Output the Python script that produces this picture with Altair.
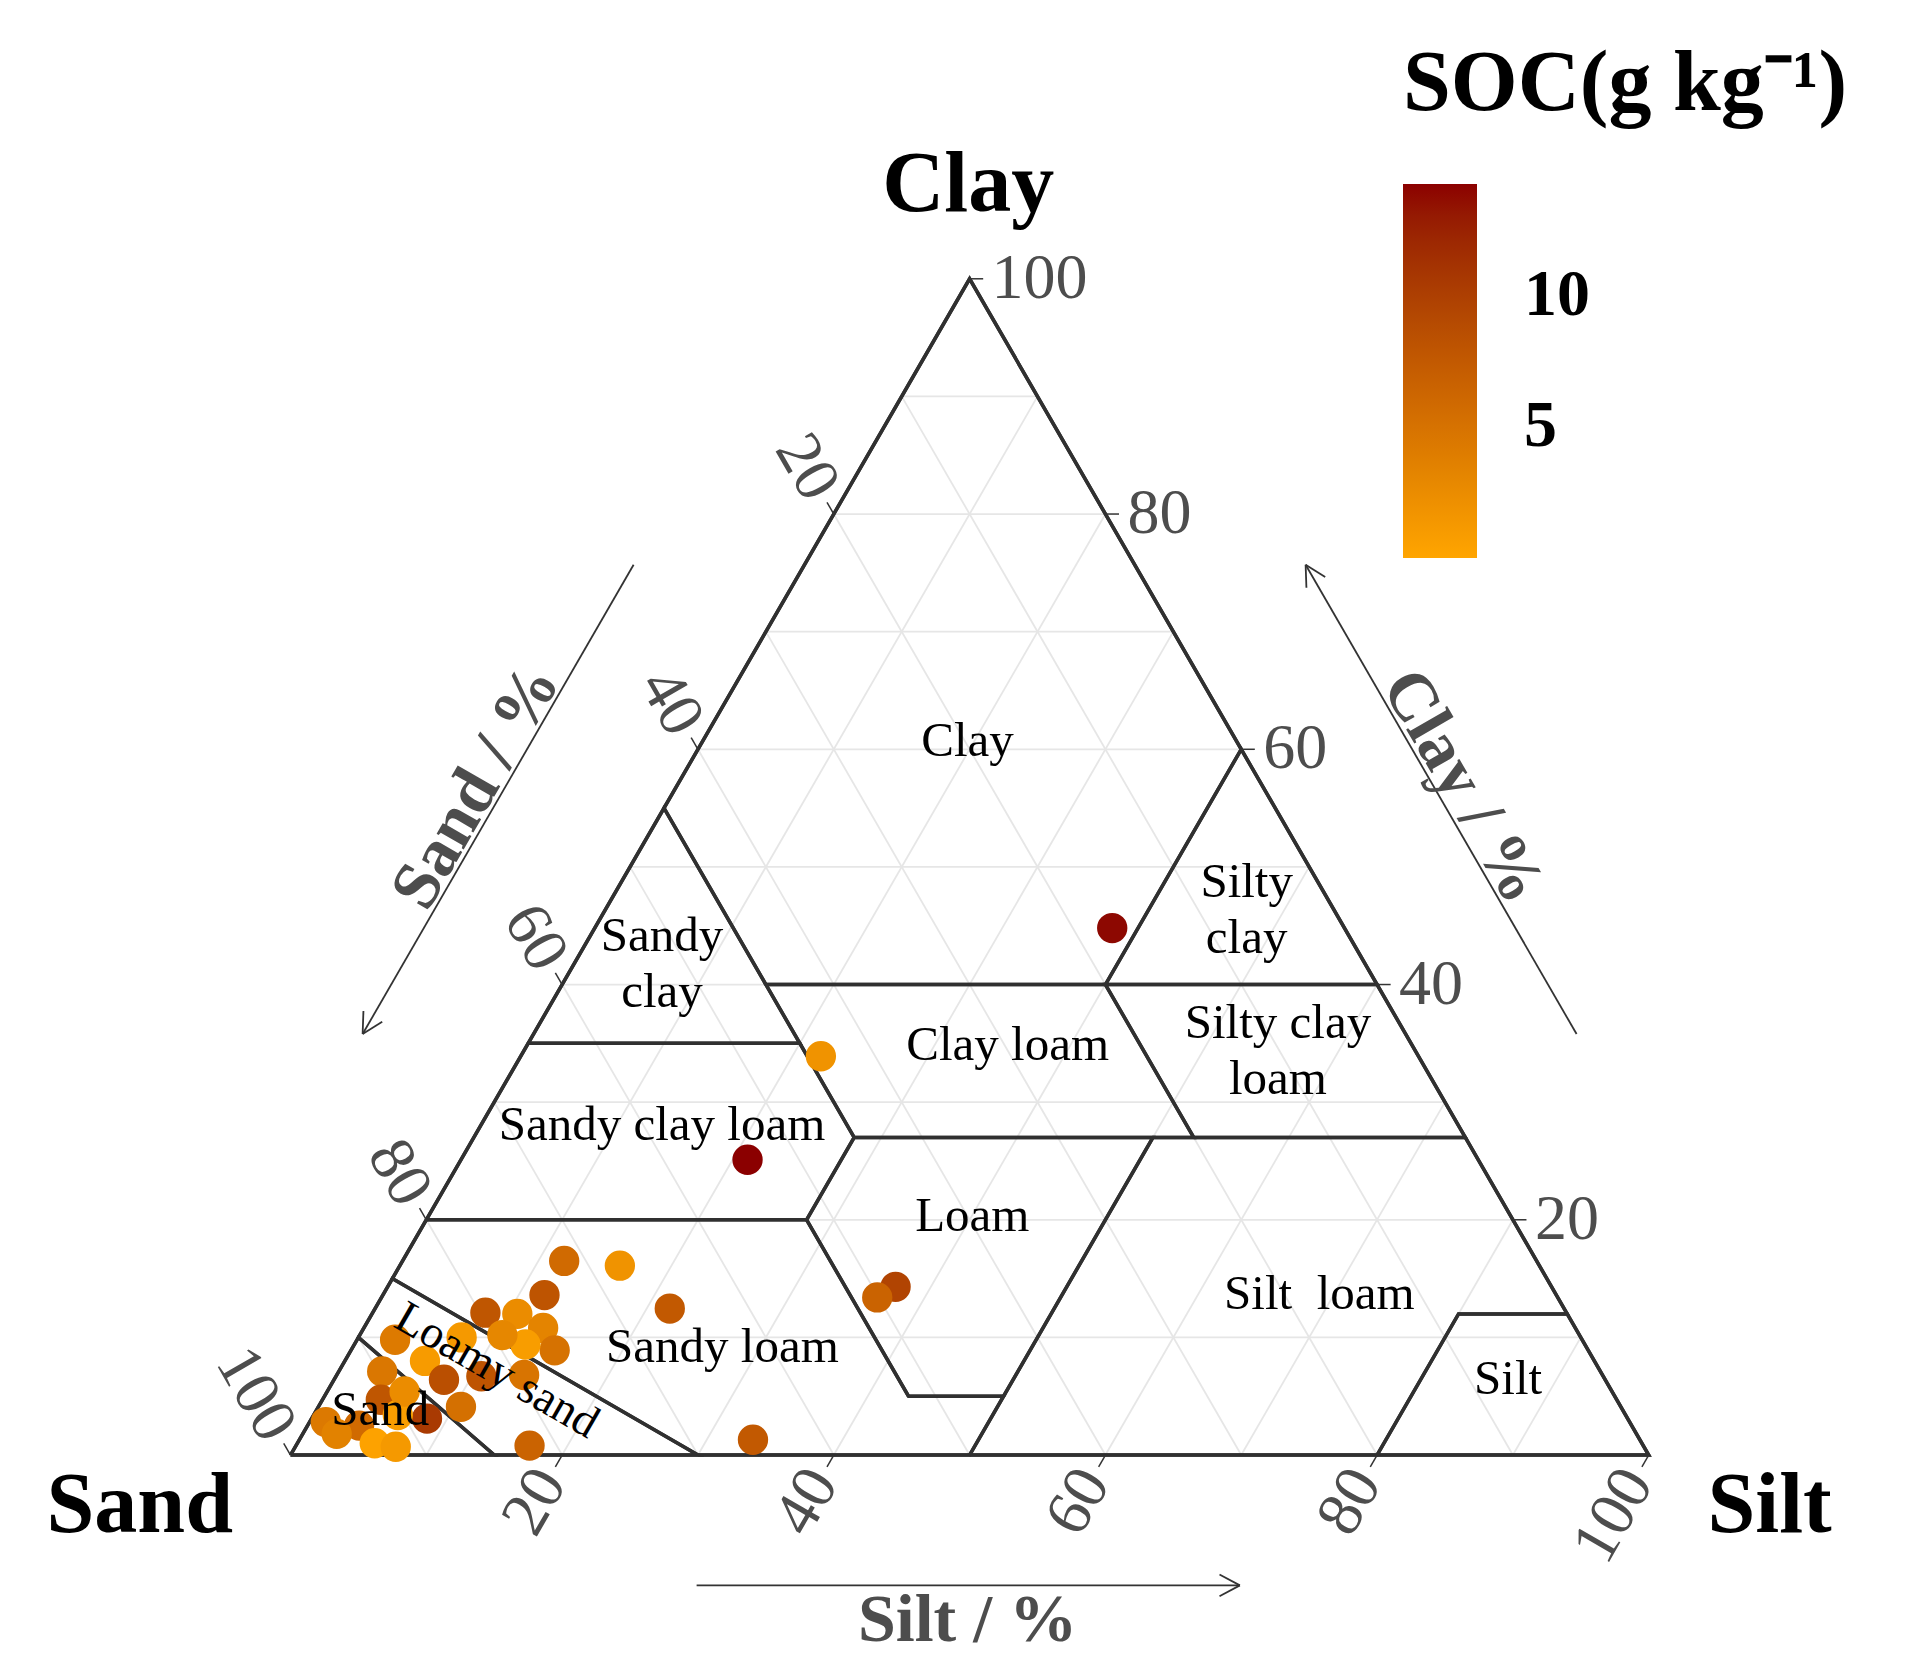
import altair as alt
import numpy as np
import pandas as pd

SERIF = "Liberation Serif"
H = float(np.sqrt(3) / 2)

# ---------------- sample data (percent, SOC g/kg) ----------------
pt_clay = [16.5, 16.1, 13.6, 12.45, 12.1, 12.0, 10.8, 8.9, 9.4, 10.2, 10.0, 9.8, 8.0, 7.1,
           6.4, 6.7, 6.8, 4.1, 3.1, 4.7, 3.4, 2.8, 2.5, 1.0, 0.7, 0.8, 1.3, 14.3, 13.4,
           33.9, 25.1, 44.8, 5.4, 1.8]
pt_silt = [11.9, 16.2, 11.9, 21.7, 8.3, 10.7, 13.2, 15.0, 12.6, 10.5, 7.6, 2.8, 5.9, 3.2,
           8.1, 10.7, 13.8, 10.5, 8.5, 4.3, 6.2, 1.2, 3.8, 5.7, 7.4, 17.2, 33.4, 37.4, 36.5,
           22.1, 21.1, 38.1, 5.7, 2.5]
pt_soc = [5.8, 1.8, 8.0, 7.5, 7.8, 2.5, 3.3, 5.0, 0.8, 3.0, 1.2, 4.2, 1.0, 4.5,
          8.5, 8.0, 4.8, 5.2, 10.5, 7.8, 0.8, 4.3, 5.8, 0.3, 1.2, 6.5, 7.5, 9.5, 6.5,
          1.8, 14.2, 13.9, 2.5, 3.5]

SOC_DOMAIN = [0, 14.2]
SOC_TICKS = [5, 10]
TICK_VALUES = [20, 40, 60, 80, 100]
GRID_VALUES = [10, 20, 30, 40, 50, 60, 70, 80, 90]

# USDA texture classes, vertices as (clay %, silt %)
CLS_SAND = [(0, 0), (0, 15), (10, 0)]
CLS_LOAMY_SAND = [(0, 15), (0, 30), (15, 0), (10, 0)]
CLS_SANDY_LOAM = [(0, 30), (0, 50), (5, 50), (5, 43), (20, 28), (20, 0), (15, 0)]
CLS_LOAM = [(5, 43), (5, 50), (27, 50), (27, 28), (20, 28)]
CLS_SILT_LOAM = [(0, 50), (0, 80), (12, 80), (12, 88), (27, 73), (27, 50)]
CLS_SILT = [(0, 80), (0, 100), (12, 88), (12, 80)]
CLS_SANDY_CLAY_LOAM = [(20, 0), (35, 0), (35, 20), (27, 28), (20, 28)]
CLS_CLAY_LOAM = [(27, 28), (40, 15), (40, 40), (27, 53)]
CLS_SILTY_CLAY_LOAM = [(27, 53), (40, 40), (40, 60), (27, 73)]
CLS_SANDY_CLAY = [(35, 0), (55, 0), (35, 20)]
CLS_SILTY_CLAY = [(40, 40), (60, 40), (40, 60)]
CLS_CLAY = [(40, 15), (55, 0), (100, 0), (60, 40), (40, 40)]
TRIANGLE = [(0, 0), (0, 100), (100, 0)]

REGION_TEXT = ["Clay", "Silty\nclay", "Sandy\nclay", "Clay loam", "Silty clay\nloam",
               "Sandy clay loam", "Loam", "Silt\u00a0 loam", "Silt", "Sandy loam", "Sand"]
REGION_CLAY = [60.7, 46.4, 41.8, 34.9, 34.4, 28.1, 20.3, 13.7, 6.5, 9.2, 3.8]
REGION_SILT = [19.5, 47.2, 6.45, 35.35, 55.5, 13.3, 40.05, 68.9, 86.4, 27.2, 4.7]
LOAMY_SAND_AT = (7.2, 11.6)

ARROW_SPAN = [29.5, 69.4]
ARROW_GAP = 10.9
ARROW_GAP_BOTTOM = 9.6
ARROW_HEAD = 1.7


def to_xy(clay, silt):
    return silt + clay / 2.0, clay * H


# ---------------- tables ----------------
pts = pd.DataFrame({"clay": pt_clay, "silt": pt_silt, "soc": pt_soc})
pts["sand"] = 100 - pts["clay"] - pts["silt"]
pts["x"] = pts["silt"] + pts["clay"] / 2
pts["y"] = pts["clay"] * H

grid_rows = []
for v in GRID_VALUES:
    for a, b in [((v, 0), (v, 100 - v)), ((0, v), (100 - v, v)), ((0, 100 - v), (100 - v, 0))]:
        x1, y1 = to_xy(*a)
        x2, y2 = to_xy(*b)
        grid_rows.append(dict(x=x1, y=y1, x2=x2, y2=y2))
grid_df = pd.DataFrame(grid_rows)

poly_rows = []
classes = {"Sand": CLS_SAND, "Loamy sand": CLS_LOAMY_SAND, "Sandy loam": CLS_SANDY_LOAM,
           "Loam": CLS_LOAM, "Silt loam": CLS_SILT_LOAM, "Silt": CLS_SILT,
           "Sandy clay loam": CLS_SANDY_CLAY_LOAM, "Clay loam": CLS_CLAY_LOAM,
           "Silty clay loam": CLS_SILTY_CLAY_LOAM, "Sandy clay": CLS_SANDY_CLAY,
           "Silty clay": CLS_SILTY_CLAY, "Clay": CLS_CLAY, "frame": TRIANGLE}
for name, verts in classes.items():
    for i, (c, s) in enumerate(list(verts) + [verts[0]]):
        x, y = to_xy(c, s)
        poly_rows.append(dict(cls=name, i=i, x=x, y=y))
poly_df = pd.DataFrame(poly_rows)

# axis ticks and labels
left_rows, bottom_rows, right_rows, tick_rows = [], [], [], []
TL = 1.0
for v in TICK_VALUES:
    x, y = to_xy(100 - v, 0)
    left_rows.append(dict(x=x, y=y, t=str(v)))
    tick_rows.append(dict(x=x, y=y, x2=x - 0.5 * TL, y2=y + H * TL))
    x, y = to_xy(0, v)
    bottom_rows.append(dict(x=x, y=y, t=str(v)))
    tick_rows.append(dict(x=x, y=y, x2=x - 0.5 * TL, y2=y - H * TL))
    x, y = to_xy(v, 100 - v)
    right_rows.append(dict(x=x, y=y, t=str(v)))
    tick_rows.append(dict(x=x, y=y, x2=x + TL, y2=y))
left_df = pd.DataFrame(left_rows)
bottom_df = pd.DataFrame(bottom_rows)
right_df = pd.DataFrame(right_rows)
tick_df = pd.DataFrame(tick_rows)

# region labels: single-line, first line and second line of two-line labels
one_rows, first_rows, second_rows = [], [], []
for t, c, s in zip(REGION_TEXT, REGION_CLAY, REGION_SILT):
    x, y = to_xy(c, s)
    parts = t.split("\n")
    if len(parts) == 1:
        one_rows.append(dict(x=x, y=y, t=t))
    else:
        first_rows.append(dict(x=x, y=y, t=parts[0]))
        second_rows.append(dict(x=x, y=y, t=parts[1]))
region_one = pd.DataFrame(one_rows)
region_first = pd.DataFrame(first_rows)
region_second = pd.DataFrame(second_rows)
lx, ly = to_xy(*LOAMY_SAND_AT)
loamy_df = pd.DataFrame({"x": [lx], "y": [ly], "t": ["Loamy sand"]})


def rot(v, deg):
    a = np.deg2rad(deg)
    return np.array([v[0] * np.cos(a) - v[1] * np.sin(a), v[0] * np.sin(a) + v[1] * np.cos(a)])


arrow_rows = []
mid = np.mean(ARROW_SPAN)
# left (sand) arrow: points toward the sand corner
u = np.array([0.5, H]); n = np.array([-H, 0.5]); o = np.array([0.0, 0.0])
tail = o + ARROW_SPAN[1] * u + ARROW_GAP * n
tip = o + ARROW_SPAN[0] * u + ARROW_GAP * n
arrow_rows.append((tail, tip))
for d in (28, -28):
    arrow_rows.append((tip, tip + ARROW_HEAD * rot(u, d)))
p = o + mid * u + (ARROW_GAP + 0.35) * n
title_left = pd.DataFrame({"x": [p[0]], "y": [p[1]], "t": ["Sand / %"]})
# right (clay) arrow: points toward the clay corner
u = np.array([-0.5, H]); n = np.array([H, 0.5]); o = np.array([100.0, 0.0])
tail = o + ARROW_SPAN[0] * u + ARROW_GAP * n
tip = o + ARROW_SPAN[1] * u + ARROW_GAP * n
arrow_rows.append((tail, tip))
for d in (28, -28):
    arrow_rows.append((tip, tip + ARROW_HEAD * rot(-u, d)))
p = o + mid * u + (ARROW_GAP + 0.35) * n
title_right = pd.DataFrame({"x": [p[0]], "y": [p[1]], "t": ["Clay / %"]})
# bottom (silt) arrow
tail = np.array([ARROW_SPAN[0] + 0.4, -ARROW_GAP_BOTTOM])
tip = np.array([ARROW_SPAN[1] + 0.5, -ARROW_GAP_BOTTOM])
arrow_rows.append((tail, tip))
for d in (28, -28):
    arrow_rows.append((tip, tip + ARROW_HEAD * rot(np.array([-1.0, 0.0]), d)))
title_bottom = pd.DataFrame({"x": [mid + 0.4], "y": [-ARROW_GAP_BOTTOM - 4.1], "t": ["Silt / %"]})
arrow_df = pd.DataFrame([dict(x=a[0], y=a[1], x2=b[0], y2=b[1]) for a, b in arrow_rows])

corner_df = pd.DataFrame({"x": [49.9, -11.1, 108.9], "y": [91.6, -5.7, -5.7],
                          "t": ["Clay", "Sand", "Silt"]})

# ---------------- chart ----------------
PX_PER_UNIT = 13.582
W, HGT = 1900, 1655
X0 = -20.80
Y1 = 106.54
XS = alt.Scale(domain=[X0, X0 + W / PX_PER_UNIT], nice=False, zero=False)
YS = alt.Scale(domain=[Y1 - HGT / PX_PER_UNIT, Y1], nice=False, zero=False)


def xy():
    return dict(x=alt.X("x:Q", scale=XS, axis=None), y=alt.Y("y:Q", scale=YS, axis=None))


def seg():
    return dict(x2=alt.X2("x2"), y2=alt.Y2("y2"))


grid = alt.Chart(grid_df).mark_rule(color="#E6E6E6", strokeWidth=1.8).encode(**xy(), **seg())
polys = alt.Chart(poly_df).mark_line(color="#303030", strokeWidth=3.5, strokeJoin="miter").encode(
    **xy(), detail="cls:N", order="i:Q")
ticks = alt.Chart(tick_df).mark_rule(color="#333333", strokeWidth=1.5).encode(**xy(), **seg())

color = alt.Color(
    "soc:Q",
    scale=alt.Scale(domain=SOC_DOMAIN, range=["#FFA500", "#8B0000"], interpolate="lab"),
    legend=alt.Legend(
        title="SOC(g kg\u207b\u00b9)", orient="none", legendX=1395, legendY=34,
        direction="vertical", gradientLength=374, gradientThickness=74, values=SOC_TICKS,
        titleFont=SERIF, titleFontSize=86, titleFontWeight="bold", titleColor="black",
        titlePadding=56, titleLimit=1000, labelFont=SERIF, labelFontSize=66,
        labelFontWeight="bold", labelColor="black", labelOffset=47, gradientStrokeWidth=0,
        padding=0, labelOverlap=False),
)
points = alt.Chart(pts).mark_circle(size=920, opacity=1).encode(**xy(), color=color)

reg_kw = dict(font=SERIF, fontSize=49, color="black", baseline="middle", align="center")
regions1 = alt.Chart(region_one).mark_text(**reg_kw).encode(**xy(), text="t:N")
regions_a = alt.Chart(region_first).mark_text(dy=-27, **reg_kw).encode(**xy(), text="t:N")
regions_b = alt.Chart(region_second).mark_text(dy=29, **reg_kw).encode(**xy(), text="t:N")
loamy = alt.Chart(loamy_df).mark_text(font=SERIF, fontSize=46, color="black", angle=30,
                                      baseline="middle", align="center").encode(**xy(), text="t:N")

lab_kw = dict(font=SERIF, fontSize=64, color="#4D4D4D", baseline="middle")
left_lab = alt.Chart(left_df).mark_text(angle=60, align="right", dx=-22, **lab_kw).encode(**xy(), text="t:N")
bottom_lab = alt.Chart(bottom_df).mark_text(angle=300, align="right", dx=-22, **lab_kw).encode(**xy(), text="t:N")
right_lab = alt.Chart(right_df).mark_text(angle=0, align="left", dx=22, **lab_kw).encode(**xy(), text="t:N")

arrows = alt.Chart(arrow_df).mark_rule(color="#333333", strokeWidth=1.8).encode(**xy(), **seg())
tt_kw = dict(font=SERIF, fontSize=68, fontWeight="bold", color="#4D4D4D",
             align="center", baseline="alphabetic")
t_left = alt.Chart(title_left).mark_text(angle=300, **tt_kw).encode(**xy(), text="t:N")
t_right = alt.Chart(title_right).mark_text(angle=60, **tt_kw).encode(**xy(), text="t:N")
t_bottom = alt.Chart(title_bottom).mark_text(**tt_kw).encode(**xy(), text="t:N")
corners = alt.Chart(corner_df).mark_text(font=SERIF, fontSize=86, fontWeight="bold", color="black",
                                         align="center", baseline="alphabetic").encode(**xy(), text="t:N")

chart = alt.layer(
    grid, polys, ticks, points, regions1, regions_a, regions_b, loamy, left_lab, bottom_lab,
    right_lab, arrows, t_left, t_right, t_bottom, corners
).properties(
    width=W, height=HGT, padding=0, autosize=alt.AutoSizeParams(type="none")
).configure_view(stroke=None)

chart.save("out.html", embed_options={"renderer": "svg", "actions": False})
